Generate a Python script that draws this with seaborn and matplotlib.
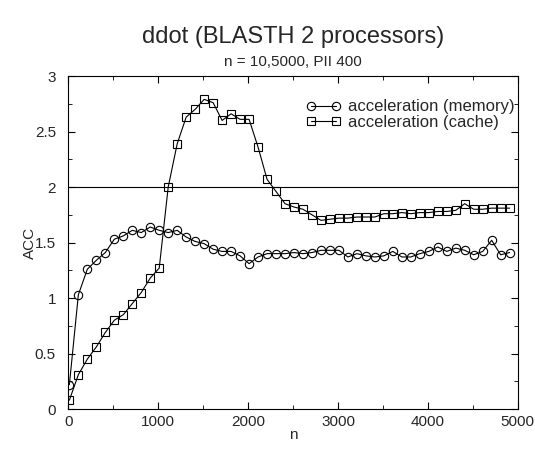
import matplotlib
matplotlib.use("Agg")
import matplotlib.pyplot as plt
from matplotlib.ticker import MultipleLocator, FuncFormatter
import seaborn as sns
import pandas as pd

n_values = [10 + 100 * i for i in range(50)]
acc_memory = [0.22, 1.03, 1.26, 1.34, 1.41, 1.53, 1.56, 1.61, 1.59, 1.64,
              1.61, 1.59, 1.61, 1.55, 1.51, 1.49, 1.44, 1.42, 1.42, 1.38,
              1.31, 1.37, 1.40, 1.40, 1.40, 1.41, 1.40, 1.41, 1.43, 1.43,
              1.43, 1.37, 1.40, 1.38, 1.37, 1.38, 1.42, 1.37, 1.37, 1.40,
              1.42, 1.46, 1.42, 1.45, 1.43, 1.39, 1.42, 1.52, 1.39, 1.41]
acc_cache = [0.08, 0.31, 0.45, 0.56, 0.69, 0.80, 0.85, 0.95, 1.05, 1.18,
             1.27, 2.00, 2.39, 2.63, 2.70, 2.79, 2.76, 2.60, 2.66, 2.61,
             2.61, 2.36, 2.07, 1.96, 1.85, 1.82, 1.80, 1.75, 1.70, 1.71,
             1.72, 1.72, 1.73, 1.73, 1.73, 1.76, 1.76, 1.77, 1.76, 1.77,
             1.77, 1.78, 1.78, 1.79, 1.85, 1.80, 1.80, 1.81, 1.81, 1.81]
labels = ["acceleration (memory)", "acceleration (cache)"]
title = "ddot (BLASTH 2 processors)"
subtitle = "n = 10,5000, PII 400"
ref_level = 2.0

sns.set_style("ticks")
plt.rcParams['font.family'] = ['Liberation Sans', 'DejaVu Sans']

df_mem = pd.DataFrame({"n": n_values, "acc": acc_memory})
df_cache = pd.DataFrame({"n": n_values, "acc": acc_cache})

fig = plt.figure(figsize=(5.35, 4.5), dpi=100)
ax = fig.add_axes([0.128, 0.091, 0.8397, 0.740])

sns.lineplot(data=df_mem, x="n", y="acc", ax=ax, color="black", lw=0.8,
             marker="o", ms=6.0, mfc="none", mec="black", mew=0.8, label=labels[0])
sns.lineplot(data=df_cache, x="n", y="acc", ax=ax, color="black", lw=0.8,
             marker="s", ms=5.2, mfc="none", mec="black", mew=0.8, label=labels[1])
ax.axhline(ref_level, color="black", lw=0.8)

ax.set_xlim(0, 5000)
ax.set_ylim(0, 3)
ax.xaxis.set_major_locator(MultipleLocator(1000))
ax.xaxis.set_minor_locator(MultipleLocator(500))
ax.yaxis.set_major_locator(MultipleLocator(0.5))
ax.yaxis.set_minor_locator(MultipleLocator(0.25))
ax.yaxis.set_major_formatter(FuncFormatter(lambda v, p: "%g" % v))
ax.tick_params(which="both", direction="in", top=True, right=True, labelsize=11, color="black")
ax.tick_params(axis="x", which="major", length=5, pad=4)
ax.tick_params(axis="y", which="major", length=5, pad=9)
ax.tick_params(which="minor", length=3)
for s in ax.spines.values():
    s.set_linewidth(0.8)
    s.set_color("black")
ax.set_xlabel("n", fontsize=11)
ax.set_ylabel("ACC", fontsize=11)
ax.xaxis.set_label_coords(0.5, -0.058)
ax.yaxis.set_label_coords(-0.070, 0.5)

leg = ax.legend(loc="upper right", frameon=False, fontsize=12, numpoints=2,
                handlelength=2.1, handletextpad=0.45, bbox_to_anchor=(1.02, 0.965),
                borderaxespad=0.3, labelspacing=0.05)

fig.text(0.5475, 0.918, title, ha="center", va="center", fontsize=17)
fig.text(0.5475, 0.863, subtitle, ha="center", va="center", fontsize=11)

fig.savefig("out.png", dpi=100)
